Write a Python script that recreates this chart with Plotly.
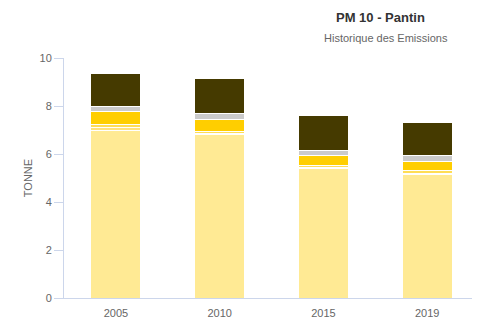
import plotly.graph_objects as go

years = ["2005", "2010", "2015", "2019"]
s_base = [7.0, 6.8, 5.4, 5.15]
s_pale = [0.10, 0.05, 0.05, 0.05]
s_light = [0.12, 0.08, 0.08, 0.10]
s_yellow = [0.55, 0.50, 0.40, 0.38]
s_gray = [0.20, 0.25, 0.22, 0.24]
s_dark = [1.40, 1.47, 1.45, 1.40]

series = [
    ("Transport routier", s_base, "#FFEA94"),
    ("Autres transports", s_pale, "#FFE27A"),
    ("Agriculture", s_light, "#FFDD55"),
    ("Industrie", s_yellow, "#FFCE00"),
    ("Chantiers", s_gray, "#CBCBCB"),
    ("Résidentiel et tertiaire", s_dark, "#453A00"),
]

fig = go.Figure()
for name, vals, col in series:
    fig.add_trace(go.Bar(x=years, y=vals, name=name,
                         marker=dict(color=col, line=dict(color="white", width=1))))

# page body has an 8px margin; plot area in window: x 64..479, y 58..298
L, R, T, B = 56, 9, 50, 30
PW, PH = 415, 240

fig.update_layout(
    barmode="stack",
    bargap=0.52,
    width=480, height=320,
    margin=dict(l=L, r=R, t=T, b=B),
    paper_bgcolor="white", plot_bgcolor="white",
    showlegend=False,
    font=dict(family="Liberation Sans, Arial, sans-serif", color="#666666", size=11),
)
fig.add_annotation(text="<b>PM 10 - Pantin</b>", xref="paper", yref="paper",
                   x=(380 - 64) / PW, y=1 + (58 - 18) / PH, showarrow=False,
                   font=dict(size=13, color="#333333"), xanchor="center", yanchor="middle")
fig.add_annotation(text="Historique des Emissions", xref="paper", yref="paper",
                   x=(386 - 64) / PW, y=1 + (58 - 38) / PH, showarrow=False,
                   font=dict(size=11, color="#666666"), xanchor="center", yanchor="middle")

fig.update_yaxes(range=[0, 10], tickvals=[0, 2, 4, 6, 8, 10], showgrid=False,
                 showline=True, linecolor="#CCD6EB", linewidth=1,
                 ticks="outside", ticklen=9, tickcolor="#CCD6EB",
                 tickfont=dict(size=11, color="#666666"),
                 title=dict(text="TONNE", font=dict(size=11, color="#666666"), standoff=4),
                 zeroline=False)
fig.update_xaxes(showgrid=False, showline=True, linecolor="#CCD6EB", linewidth=1,
                 ticks="", ticklabelstandoff=5, tickfont=dict(size=11, color="#666666"))

fig.write_html("out.html")
